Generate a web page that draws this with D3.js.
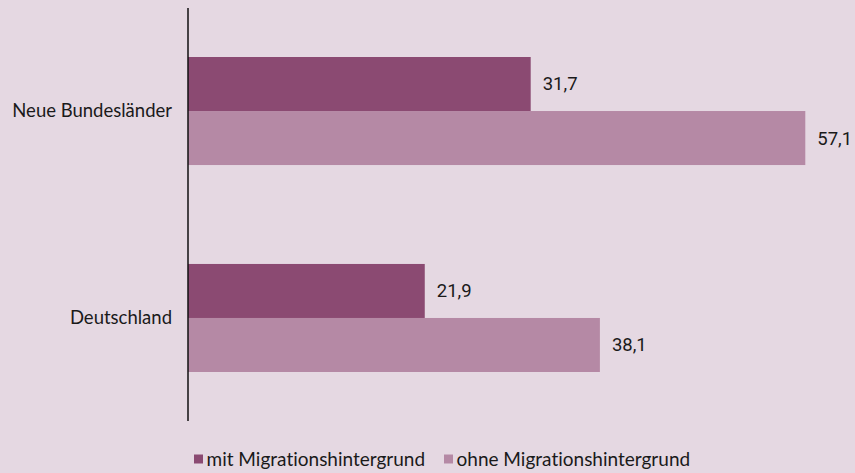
<!DOCTYPE html>
<html>
<head>
<meta charset="utf-8">
<script src="https://cdn.jsdelivr.net/npm/d3@7"></script>
<style>
  html, body { margin: 0; padding: 0; background: #e5d8e2; }
  svg { display: block; }
  text { font-variant-ligatures: none; font-feature-settings: "liga" 0; }
</style>
</head>
<body>
<svg id="chart" width="855" height="473"></svg>
<script>
// Categories (top to bottom) and series
const categories = ["Neue Bundesländer", "Deutschland"];
const seriesNames = ["mit Migrationshintergrund", "ohne Migrationshintergrund"];
const mitValues = [31.7, 21.9];
const ohneValues = [57.1, 38.1];
const seriesColors = ["#8b4a72", "#b589a5"];

const width = 855, height = 473;
const svg = d3.select("#chart");

svg.append("rect").attr("width", width).attr("height", height).attr("fill", "#e5d8e2");

const x = d3.scaleLinear().domain([0, 57.1]).range([188, 805.3]);
const y = d3.scaleBand().domain(categories).range([57, 372]).paddingInner(0.478).paddingOuter(0);
const ySub = d3.scaleBand().domain(seriesNames).range([0, y.bandwidth()]).padding(0);

const rows = categories.map((c, i) => ({
  cat: c,
  values: [
    { s: seriesNames[0], v: mitValues[i], color: seriesColors[0] },
    { s: seriesNames[1], v: ohneValues[i], color: seriesColors[1] }
  ]
}));

const fmt = v => d3.format(".1f")(v).replace(".", ",");

const groups = svg.selectAll("g.cat").data(rows).join("g")
  .attr("class", "cat")
  .attr("transform", d => `translate(0,${y(d.cat)})`);

groups.selectAll("rect").data(d => d.values).join("rect")
  .attr("x", x(0))
  .attr("y", d => ySub(d.s))
  .attr("width", d => x(d.v) - x(0))
  .attr("height", ySub.bandwidth())
  .attr("fill", d => d.color);

groups.selectAll("text.val").data(d => d.values).join("text")
  .attr("class", "val")
  .attr("x", d => x(d.v) + 12)
  .attr("y", d => ySub(d.s) + ySub.bandwidth() / 2)
  .attr("dy", "0.35em")
  .attr("font-family", "Roboto, sans-serif")
  .attr("font-size", 18.5)
  .attr("fill", "#1a1a1a")
  .text(d => fmt(d.v));

// Category axis: vertical line with labels, no ticks
const axis = d3.axisLeft(y).tickSize(0).tickPadding(16);
const ag = svg.append("g").attr("transform", `translate(${x(0)},0)`).call(axis);
ag.select(".domain").attr("d", `M0,8V421`).attr("stroke", "#111").attr("stroke-width", 1.5);
ag.selectAll(".tick text")
  .attr("font-family", "Lato, sans-serif")
  .attr("font-size", 18.5)
  .attr("fill", "#1a1a1a");

// Legend
const legend = svg.append("g").attr("transform", "translate(194,459)");
const legItems = [
  { name: seriesNames[0], color: seriesColors[0], x: 0 },
  { name: seriesNames[1], color: seriesColors[1], x: 250 }
];
const li = legend.selectAll("g").data(legItems).join("g")
  .attr("transform", d => `translate(${d.x},0)`);
li.append("rect").attr("x", 0).attr("y", -4.5).attr("width", 9).attr("height", 9).attr("fill", d => d.color);
li.append("text").attr("x", 12.5).attr("y", 0).attr("dy", "0.35em")
  .attr("font-family", "Lato, sans-serif").attr("font-size", 19).attr("fill", "#1a1a1a")
  .text(d => d.name);
</script>
</body>
</html>
